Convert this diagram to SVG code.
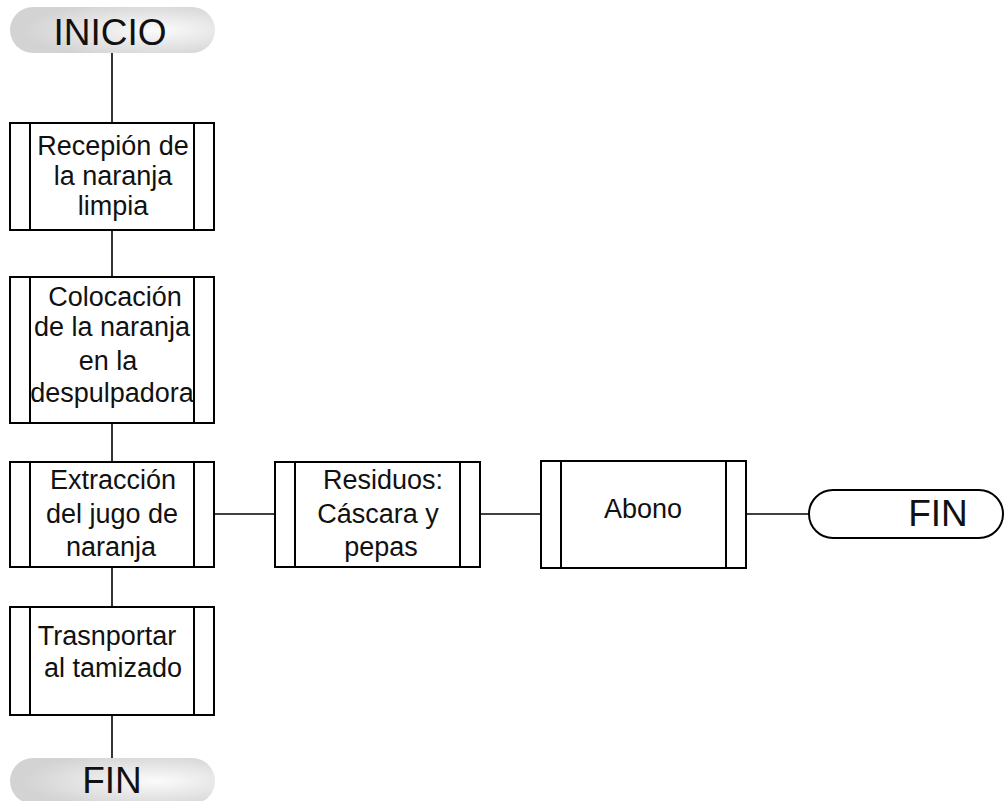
<svg xmlns="http://www.w3.org/2000/svg" width="1004" height="801" viewBox="0 0 1004 801">
  <defs>
    <radialGradient id="pillFill" cx="0.68" cy="0.5" r="0.62" fx="0.72" fy="0.5">
      <stop offset="0" stop-color="#fbfbfb"/>
      <stop offset="1" stop-color="#d3d3d3"/>
    </radialGradient>
    <style>
      .box { fill: #ffffff; stroke: #000000; stroke-width: 2; }
      .bar { fill: none; stroke: #000000; stroke-width: 2; }
      .pill { fill: url(#pillFill); stroke: none; }
      .pill-open { fill: #ffffff; stroke: #000000; stroke-width: 2; }
      .wire { fill: none; stroke: #000000; stroke-width: 1.6; }
      .lbl { font-family: "Liberation Sans", Arial, sans-serif; font-size: 27px; fill: #111111; text-anchor: middle; }
      .term { font-family: "Liberation Sans", Arial, sans-serif; font-size: 37px; fill: #111111; text-anchor: middle; }
    </style>
  </defs>
  <rect width="1004" height="801" fill="#ffffff"/>

  <!-- connectors -->
  <g id="connectors">
    <line class="wire" x1="112" y1="53" x2="112" y2="123"/>
    <line class="wire" x1="112" y1="230" x2="112" y2="277"/>
    <line class="wire" x1="112" y1="423" x2="112" y2="462"/>
    <line class="wire" x1="112" y1="567" x2="112" y2="607"/>
    <line class="wire" x1="112" y1="715" x2="112" y2="758"/>
    <line class="wire" x1="214" y1="514" x2="275" y2="514"/>
    <line class="wire" x1="480" y1="514" x2="541" y2="514"/>
    <line class="wire" x1="746" y1="514" x2="809" y2="514"/>
  </g>

  <!-- start terminator -->
  <g id="inicio">
    <rect class="pill" x="10" y="7" width="205" height="46" rx="23"/>
    <text class="term" x="110" y="45">INICIO</text>
  </g>

  <!-- process: reception -->
  <g id="recepcion">
    <rect class="box" x="10" y="123" width="204" height="107"/>
    <line class="bar" x1="30" y1="123" x2="30" y2="230"/>
    <line class="bar" x1="194" y1="123" x2="194" y2="230"/>
    <text class="lbl" x="113" y="155">Recepión de</text>
    <text class="lbl" x="113" y="185">la naranja</text>
    <text class="lbl" x="113" y="215">limpia</text>
  </g>

  <!-- process: placing in pulper -->
  <g id="colocacion">
    <rect class="box" x="10" y="277" width="204" height="146"/>
    <line class="bar" x1="30" y1="277" x2="30" y2="423"/>
    <line class="bar" x1="194" y1="277" x2="194" y2="423"/>
    <text class="lbl" x="115" y="306">Colocación</text>
    <text class="lbl" x="112" y="336">de la naranja</text>
    <text class="lbl" x="108" y="370">en la</text>
    <text class="lbl" x="112" y="402">despulpadora</text>
  </g>

  <!-- process: juice extraction -->
  <g id="extraccion">
    <rect class="box" x="10" y="462" width="204" height="105"/>
    <line class="bar" x1="30" y1="462" x2="30" y2="567"/>
    <line class="bar" x1="194" y1="462" x2="194" y2="567"/>
    <text class="lbl" x="113" y="489">Extracción</text>
    <text class="lbl" x="112" y="523">del jugo de</text>
    <text class="lbl" x="111" y="556">naranja</text>
  </g>

  <!-- process: residues -->
  <g id="residuos">
    <rect class="box" x="275" y="462" width="205" height="105"/>
    <line class="bar" x1="295" y1="462" x2="295" y2="567"/>
    <line class="bar" x1="460" y1="462" x2="460" y2="567"/>
    <text class="lbl" x="383" y="489">Residuos:</text>
    <text class="lbl" x="378" y="523">Cáscara y</text>
    <text class="lbl" x="381" y="556">pepas</text>
  </g>

  <!-- process: compost -->
  <g id="abono">
    <rect class="box" x="541" y="461" width="205" height="107"/>
    <line class="bar" x1="561" y1="461" x2="561" y2="568"/>
    <line class="bar" x1="726" y1="461" x2="726" y2="568"/>
    <text class="lbl" x="643" y="518">Abono</text>
  </g>

  <!-- end terminator (side branch) -->
  <g id="fin-lateral">
    <rect class="pill-open" x="809" y="490" width="194" height="48" rx="24"/>
    <text class="term" x="938" y="526">FIN</text>
  </g>

  <!-- process: transport to sieving -->
  <g id="transporte">
    <rect class="box" x="10" y="607" width="204" height="108"/>
    <line class="bar" x1="30" y1="607" x2="30" y2="715"/>
    <line class="bar" x1="194" y1="607" x2="194" y2="715"/>
    <text class="lbl" x="107" y="645">Trasnportar</text>
    <text class="lbl" x="113" y="677">al tamizado</text>
  </g>

  <!-- end terminator (main line) -->
  <g id="fin">
    <rect class="pill" x="10" y="758" width="205" height="46" rx="23"/>
    <text class="term" x="112" y="793">FIN</text>
  </g>
</svg>
